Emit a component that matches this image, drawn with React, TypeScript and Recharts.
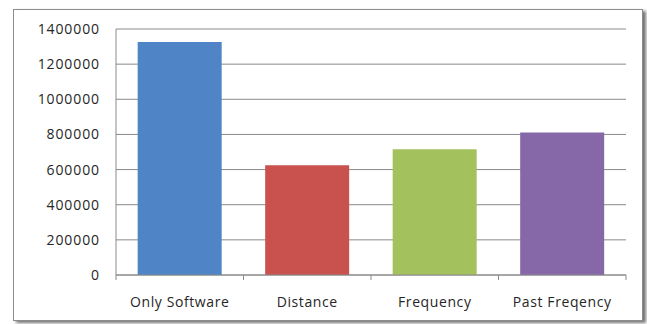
import React from 'react';
import { BarChart, Bar, XAxis, YAxis, CartesianGrid, Cell } from 'recharts';

const categories = ['Only Software', 'Distance', 'Frequency', 'Past Freqency'];
const values = [1326000, 625000, 716000, 811000];
const barColors = ['#4F85C6', '#C9524F', '#A3C25E', '#8667A7'];
const yTicks = [0, 200000, 400000, 600000, 800000, 1000000, 1200000, 1400000];

const data = categories.map((name, i) => ({ name, value: values[i] }));

const CHART_W = 647;
const CHART_H = 324;
const MARGIN = { top: 29, right: 21, left: 0, bottom: 0 };
const Y_AXIS_W = 116;
const X_AXIS_H = 49;
const plotWidth = CHART_W - MARGIN.left - MARGIN.right - Y_AXIS_W;
const band = plotWidth / categories.length;

const fontFamily = '"Open Sans", sans-serif';
const textColor = '#262626';
const lineColor = '#8a8a8a';

interface TickProps {
  x?: number;
  y?: number;
  index?: number;
  payload?: { value: string };
}

// category label plus tick marks at the band edges, like Excel
const CategoryTick = ({ x = 0, y = 0, index = 0, payload }: TickProps) => {
  const left = x - band / 2;
  const right = x + band / 2;
  return (
    <g>
      <line x1={left} y1={y} x2={left} y2={y + 5} stroke={lineColor} />
      {index === categories.length - 1 && (
        <line x1={right} y1={y} x2={right} y2={y + 5} stroke={lineColor} />
      )}
      <text
        x={x}
        y={y + 32}
        textAnchor="middle"
        fill={textColor}
        fontSize={14}
        letterSpacing={0.6}
        fontFamily={fontFamily}
      >
        {payload?.value}
      </text>
    </g>
  );
};

export default function App() {
  return (
    <div style={{ position: 'absolute', left: 0, top: 0, width: CHART_W, height: CHART_H, background: '#fff' }}>
      <div
        style={{
          position: 'absolute',
          left: 13,
          top: 9,
          width: 628,
          height: 310,
          border: '1px solid #8c8c8c',
          boxShadow: '3px 2px 3px rgba(0,0,0,0.55)',
          background: '#fff',
        }}
      />
      <div style={{ position: 'absolute', left: 0, top: 0 }}>
        <BarChart width={CHART_W} height={CHART_H} data={data} margin={MARGIN} barCategoryGap="17%">
          <CartesianGrid vertical={false} stroke={lineColor} strokeDasharray="" />
          <XAxis
            dataKey="name"
            height={X_AXIS_H}
            tickSize={0}
            tickMargin={0}
            tickLine={false}
            axisLine={{ stroke: lineColor }}
            interval={0}
            tick={<CategoryTick />}
          />
          <YAxis
            width={Y_AXIS_W}
            domain={[0, 1400000]}
            ticks={yTicks}
            interval={0}
            tickSize={0}
            tickMargin={16}
            tickLine={false}
            axisLine={{ stroke: lineColor }}
            tick={{ fill: textColor, fontSize: 14, fontFamily, letterSpacing: 0.9 }}
          />
          <Bar dataKey="value" isAnimationActive={false}>
            {data.map((d, i) => (
              <Cell key={d.name} fill={barColors[i]} />
            ))}
          </Bar>
        </BarChart>
      </div>
    </div>
  );
}
